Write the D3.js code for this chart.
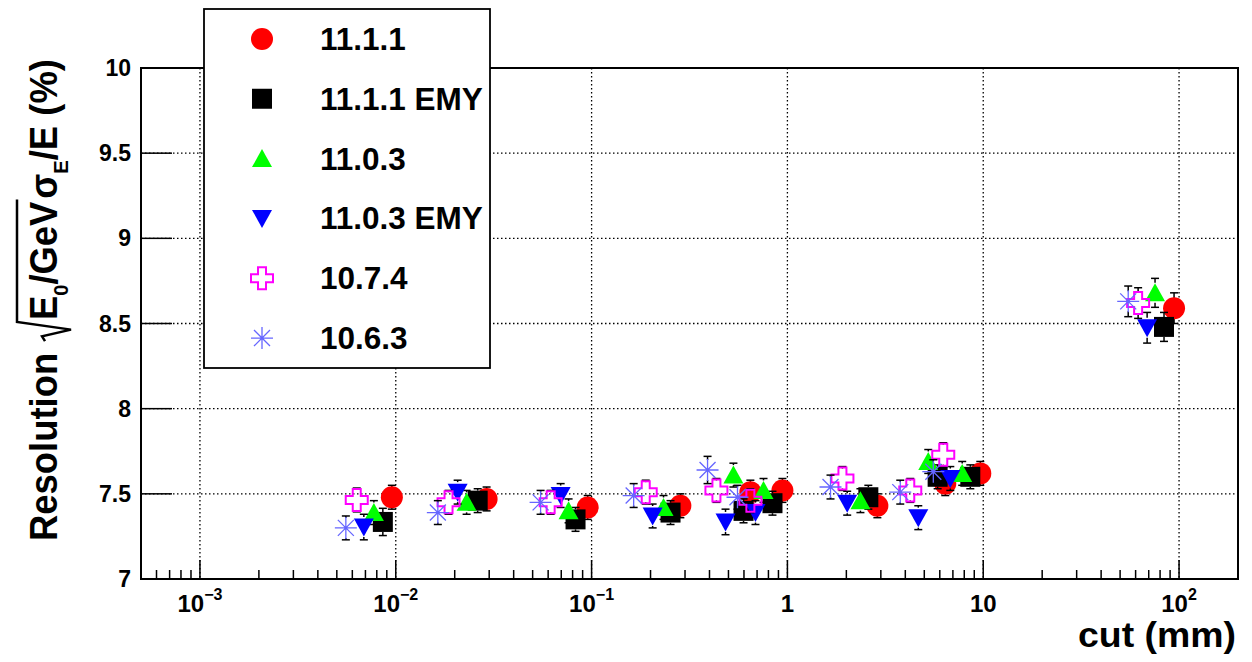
<!DOCTYPE html>
<html lang="en">
<head>
<meta charset="UTF-8">
<title>Resolution vs cut</title>
<script src="https://d3js.org/d3.v7.min.js"></script>
<style>
  body { margin: 0; background: #fff; }
  svg { display: block; font-family: "Liberation Sans", Arial, sans-serif; font-weight: bold; }
</style>
</head>
<body>
<svg id="chart" width="1252" height="662"></svg>
<script>
// series names, colours and ROOT-like marker styles
const versions = ["11.1.1", "11.1.1 EMY", "11.0.3", "11.0.3 EMY", "10.7.4", "10.6.3"];
const colors = ["#ff0000", "#000000", "#00ff00", "#0000ff", "#ff00ff", "#6666ff"];
const shapes = ["circle", "square", "triUp", "triDown", "openCross", "star"];

// cut (mm) values, shifted per series as in the plot
const cut111    = [0.00955, 0.0291, 0.0955, 0.284, 0.647, 0.943, 2.88, 6.40, 9.66, 94.3];
const cut111emy = [0.00859, 0.0262, 0.0828, 0.253, 0.597, 0.839, 2.59, 5.85, 8.59, 83.8];
const cut103    = [0.00773, 0.0230, 0.0763, 0.233, 0.530, 0.755, 2.36, 5.24, 7.81, 75.4];
const cut103emy = [0.00687, 0.0207, 0.0695, 0.205, 0.483, 0.687, 2.02, 4.66, 6.79, 68.7];
const cut074    = [0.00632, 0.0186, 0.0618, 0.189, 0.434, 0.647, 1.91, 4.24, 6.25, 61.8];
const cut063    = [0.00556, 0.0164, 0.0549, 0.164, 0.391, 0.556, 1.66, 3.77, 5.56, 55.0];

// resolution (%)
const res111    = [7.48, 7.47, 7.42, 7.43, 7.51, 7.52, 7.43, 7.56, 7.62, 8.59];
const res111emy = [7.335, 7.46, 7.35, 7.39, 7.40, 7.445, 7.48, 7.60, 7.60, 8.48];
const res103    = [7.39, 7.45, 7.40, 7.42, 7.61, 7.52, 7.46, 7.69, 7.62, 8.68];
const res103emy = [7.305, 7.51, 7.49, 7.37, 7.335, 7.39, 7.445, 7.36, 7.59, 8.475];
const res074    = [7.464, 7.45, 7.45, 7.51, 7.52, 7.46, 7.59, 7.52, 7.73, 8.62];
const res063    = [7.30, 7.39, 7.45, 7.49, 7.64, 7.48, 7.54, 7.51, 7.63, 8.63];

// errors on resolution
const err111    = [0.07, 0.07, 0.07, 0.07, 0.07, 0.07, 0.07, 0.07, 0.07, 0.09];
const err111emy = [0.08, 0.07, 0.07, 0.07, 0.07, 0.07, 0.07, 0.07, 0.07, 0.085];
const err103    = [0.07, 0.07, 0.07, 0.07, 0.07, 0.07, 0.07, 0.07, 0.07, 0.085];
const err103emy = [0.075, 0.07, 0.07, 0.07, 0.075, 0.07, 0.07, 0.07, 0.07, 0.09];
const err074    = [0.07, 0.07, 0.07, 0.07, 0.07, 0.07, 0.07, 0.07, 0.07, 0.09];
const err063    = [0.07, 0.07, 0.07, 0.07, 0.08, 0.07, 0.07, 0.07, 0.07, 0.09];

const allCuts = [cut111, cut111emy, cut103, cut103emy, cut074, cut063];
const allRes = [res111, res111emy, res103, res103emy, res074, res063];
const allErr = [err111, err111emy, err103, err103emy, err074, err063];

const yTicks = [7, 7.5, 8, 8.5, 9, 9.5, 10];

const svg = d3.select('#chart');
svg.append('rect').attr('width', 1252).attr('height', 662).attr('fill', '#fff');

const plotLeft = 141, plotRight = 1238, plotTop = 68, plotBottom = 579;
const x = d3.scaleLog().domain([5e-4, 200]).range([plotLeft, plotRight]);
const y = d3.scaleLinear().domain([7, 10]).range([plotBottom, plotTop]);

// grid
const grid = svg.append('g').attr('stroke', '#000').attr('stroke-width', 1.3)
    .attr('stroke-dasharray', '1.5,2.5');
const majors = x.ticks().filter(v => Math.abs(Math.log10(v) - Math.round(Math.log10(v))) < 1e-9);
majors.forEach(v => {
    grid.append('line').attr('x1', x(v)).attr('x2', x(v)).attr('y1', plotTop).attr('y2', plotBottom);
});
yTicks.slice(1, -1).forEach(v => {
    grid.append('line').attr('x1', plotLeft).attr('x2', plotRight).attr('y1', y(v)).attr('y2', y(v));
});

// ticks
const ticks = svg.append('g').attr('stroke', '#000').attr('stroke-width', 1.5);
x.ticks().forEach(v => {
    const len = majors.includes(v) ? 19 : 9;
    ticks.append('line').attr('x1', x(v)).attr('x2', x(v)).attr('y1', plotBottom).attr('y2', plotBottom - len);
});
yTicks.forEach(v => {
    ticks.append('line').attr('x1', plotLeft).attr('x2', plotLeft + 31).attr('y1', y(v)).attr('y2', y(v));
});

// frame
svg.append('rect').attr('x', plotLeft).attr('y', plotTop)
    .attr('width', plotRight - plotLeft).attr('height', plotBottom - plotTop)
    .attr('fill', 'none').attr('stroke', '#000').attr('stroke-width', 2);

// tick labels
yTicks.forEach(v => {
    svg.append('text').attr('x', 131).attr('y', y(v) + 8).attr('text-anchor', 'end')
        .attr('font-size', 23).text(v);
});
majors.forEach(v => {
    const p = Math.round(Math.log10(v));
    const t = svg.append('text').attr('x', x(v)).attr('y', 612).attr('text-anchor', 'middle')
        .attr('font-size', 24);
    if (p === 0 || p === 1) {
        t.text(p === 0 ? '1' : '10');
    } else {
        t.append('tspan').text('10');
        t.append('tspan').attr('font-size', 16).attr('dy', -12).text(p < 0 ? '\u2212' + (-p) : p);
    }
});

// axis titles
svg.append('text').attr('x', 1078).attr('y', 647).attr('font-size', 35)
    .attr('textLength', 158).attr('lengthAdjust', 'spacingAndGlyphs').text('cut (mm)');

const fs = 38;
const ytitle = svg.append('g');
const t1 = ytitle.append('text').attr('x', 0).attr('y', 0).attr('font-size', fs).text('Resolution');
const radStart = t1.node().getComputedTextLength() + 12;
const t2 = ytitle.append('text').attr('x', radStart + 22).attr('y', 0).attr('font-size', fs);
t2.append('tspan').text('E');
t2.append('tspan').attr('font-size', 21).attr('dy', 11).text('0');
t2.append('tspan').attr('dy', -11).text('/GeV');
const w2 = t2.node().getComputedTextLength();
ytitle.append('path')
    .attr('d', `M${radStart},-12 L${radStart + 5},-15 L${radStart + 12},14 L${radStart + 20},-40 L${radStart + 22 + w2 + 2},-40`)
    .attr('fill', 'none').attr('stroke', '#000').attr('stroke-width', 2.5);
const s3 = radStart + 22 + w2 + 3;
const t3 = ytitle.append('text').attr('x', s3).attr('y', 0).attr('font-size', fs);
t3.append('tspan').text('\u03c3');
t3.append('tspan').attr('font-size', 21).attr('dy', 11).text('E');
t3.append('tspan').attr('dy', -11).text('/E (%)');
const totalLen = s3 + t3.node().getComputedTextLength();
const f = 482 / totalLen;
ytitle.attr('transform', `translate(57,541) rotate(-90) scale(${f},1)`);

// marker shapes
function drawMarker(g, shape, color, cx, cy) {
    if (shape === 'circle') {
        g.append('circle').attr('cx', cx).attr('cy', cy).attr('r', 11).attr('fill', color);
        return;
    }
    const paths = {
        square: 'M-10,-10 h20 v20 h-20 Z',
        triUp: 'M-10,8.5 L10,8.5 L0,-9.5 Z',
        triDown: 'M-10,-8.5 L10,-8.5 L0,9.5 Z',
        openCross: 'M-4,-11 H4 V-4 H11 V4 H4 V11 H-4 V4 H-11 V-4 H-4 Z',
        star: 'M-11,0 H11 M0,-11 V11 M-8,-8 L8,8 M-8,8 L8,-8'
    };
    const p = g.append('path').attr('d', paths[shape]).attr('transform', `translate(${cx},${cy})`);
    if (shape === 'openCross') {
        p.attr('fill', 'none').attr('stroke', color).attr('stroke-width', 2);
    } else if (shape === 'star') {
        p.attr('fill', 'none').attr('stroke', color).attr('stroke-width', 1.3);
    } else {
        p.attr('fill', color);
    }
}

// data: error bars then markers, series by series
const plot = svg.append('g');
versions.forEach((name, s) => {
    const g = plot.append('g');
    allCuts[s].forEach((c, i) => {
        const cx = x(c), cy = y(allRes[s][i]);
        const yHi = y(allRes[s][i] + allErr[s][i]);
        const yLo = y(allRes[s][i] - allErr[s][i]);
        const eb = g.append('g').attr('stroke', '#000').attr('stroke-width', 1.5);
        if (cy - yHi > 10) eb.append('line').attr('x1', cx).attr('x2', cx).attr('y1', cy - 10).attr('y2', yHi);
        if (yLo - cy > 10) eb.append('line').attr('x1', cx).attr('x2', cx).attr('y1', cy + 10).attr('y2', yLo);
        eb.append('line').attr('x1', cx - 4).attr('x2', cx + 4).attr('y1', yHi).attr('y2', yHi);
        eb.append('line').attr('x1', cx - 4).attr('x2', cx + 4).attr('y1', yLo).attr('y2', yLo);
    });
    allCuts[s].forEach((c, i) => {
        drawMarker(g, shapes[s], colors[s], x(c), y(allRes[s][i]));
    });
});

// legend (margin 0.4 of width for the marker column)
const lg = svg.append('g');
const lx = 204, ly = 9, lw = 286, lh = 359;
lg.append('rect').attr('x', lx).attr('y', ly).attr('width', lw).attr('height', lh)
    .attr('fill', '#fff').attr('stroke', '#000').attr('stroke-width', 1.8);
const rowH = lh / versions.length;
versions.forEach((name, i) => {
    const cy = ly + rowH * (i + 0.5);
    drawMarker(lg, shapes[i], colors[i], lx + 58, cy);
    lg.append('text').attr('x', lx + 116).attr('y', cy + 11).attr('font-size', 31.5).text(name);
});
</script>
</body>
</html>
